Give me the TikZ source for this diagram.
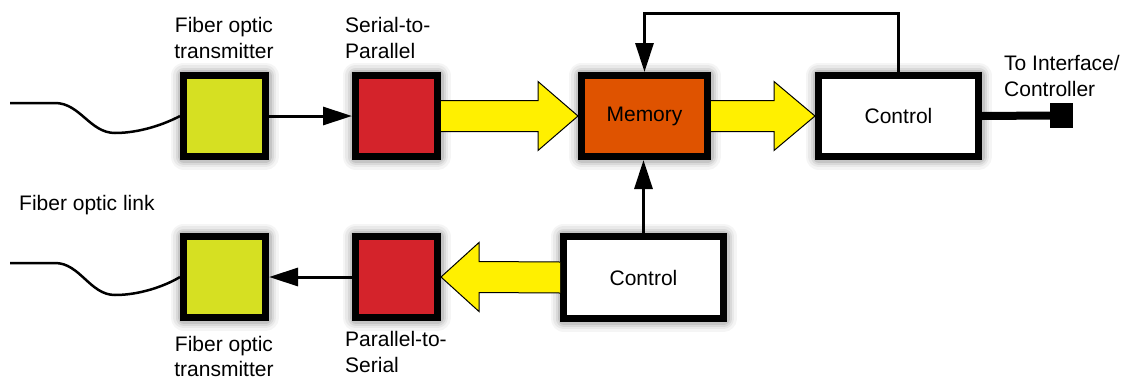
\documentclass[tikz,border=0pt]{standalone}
\usepackage{fontspec}
\setmainfont{Liberation Sans}
\usetikzlibrary{arrows.meta,calc}
\definecolor{txgreen}{HTML}{D6E022}
\definecolor{sred}{HTML}{D4232B}
\definecolor{memorange}{HTML}{DF5300}
\definecolor{ayellow}{HTML}{FFF000}
\begin{document}
\begin{tikzpicture}[x=1pt,y=-1pt,
  glow/.style={
    preaction={draw=black,draw opacity=0.04,line width=26pt,line join=round},
    preaction={draw=black,draw opacity=0.05,line width=21pt,line join=round},
    preaction={draw=black,draw opacity=0.07,line width=16pt,line join=round},
    preaction={draw=black,draw opacity=0.09,line width=12pt,line join=round}},
  box/.style={glow,draw=black,line width=7pt,inner sep=0pt,
    font=\fontsize{21}{25.5}\selectfont},
  sqbox/.style={box,minimum width=82pt,minimum height=81pt},
  lbl/.style={inner sep=0pt,font=\fontsize{21}{25.5}\selectfont},
  link/.style={line width=3pt,-{Triangle[length=29pt,width=18pt]}},
  fiber/.style={line width=2.5pt},
  fat/.style={draw=black,line width=1pt,fill=ayellow,line join=miter}
]
\useasboundingbox (0,0) rectangle (1133,378);

% boxes
\node[sqbox,fill=txgreen] (tx1) at (224.5,116) {};
\node[sqbox,fill=sred] (s2p) at (396.5,116) {};
\node[box,fill=memorange,minimum width=126pt,minimum height=81pt] (mem) at (644.5,116) {Memory};
\node[box,fill=white,minimum width=160pt,minimum height=81pt] (ctrl) at (898.5,116) {Control};
\node[sqbox,fill=txgreen] (tx2) at (224.5,277) {};
\node[sqbox,fill=sred] (p2s) at (396.5,277) {};
\node[box,fill=white,minimum width=160pt,minimum height=82pt] (bctrl) at (643.5,277.5) {Control};
\node[fill=black,minimum width=23pt,minimum height=25pt,inner sep=0pt] (term) at (1061.5,115.5) {};

% labels
\node[lbl,anchor=north,align=center] (l1) at (224,17.5) {Fiber optic\\transmitter};
\node[lbl,anchor=north west,align=left] (l2) at (345,17.5) {Serial-to-\\Parallel};
\node[lbl,anchor=north west,align=left] (l3) at (1004,55.5) {To Interface/\\Controller};
\node[lbl,anchor=north west,align=left] (l4) at (19,195.5) {Fiber optic link};
\node[lbl,anchor=north,align=center] (l5) at (224,336) {Fiber optic\\transmitter};
\node[lbl,anchor=north west,align=left] (l6) at (345,331.5) {Parallel-to-\\Serial};

% fibers
\coordinate (f1) at (10,103);
\coordinate (f2) at (10,263);
\draw[fiber] (f1) -- (55,103) .. controls (80,103) and (90,133) .. (115,133)
  .. controls (140,133) and (165,124) .. (tx1.west);
\draw[fiber] (f2) -- (55,263) .. controls (80,263) and (90,295) .. (115,295)
  .. controls (140,295) and (165,286) .. (tx2.west);

% thin arrows
\draw[link] (tx1.east) -- (s2p.west);
\draw[link] (p2s.west) -- (tx2.east);
\coordinate (fb) at (mem.north |- 0,13);
\draw[link] (ctrl.north) -- (ctrl.north |- fb) -- (fb) -- (mem.north);
\draw[link] (bctrl.north) -- (bctrl.north |- mem.south);
\draw[line width=8pt] (ctrl.east) -- (term.west);

% fat yellow arrows
\draw[fat] ($(s2p.east)+(0,-15.5)$) -- ($(mem.west)+(-40,-15.5)$) -- ($(mem.west)+(-40,-34.5)$)
  -- (mem.west) -- ($(mem.west)+(-40,34.5)$) -- ($(mem.west)+(-40,15.5)$) -- ($(s2p.east)+(0,15.5)$);
\draw[fat] ($(mem.east)+(0,-15.5)$) -- ($(ctrl.west)+(-41,-15.5)$) -- ($(ctrl.west)+(-41,-34.5)$)
  -- (ctrl.west) -- ($(ctrl.west)+(-41,34.5)$) -- ($(ctrl.west)+(-41,15.5)$) -- ($(mem.east)+(0,15.5)$);
\draw[fat] ($(bctrl.west)+(0,-15.5)$) -- ($(p2s.east)+(38,-15.5)$) -- ($(p2s.east)+(38,-34.5)$)
  -- (p2s.east) -- ($(p2s.east)+(38,34.5)$) -- ($(p2s.east)+(38,15.5)$) -- ($(bctrl.west)+(0,15.5)$);
\end{tikzpicture}
\end{document}
